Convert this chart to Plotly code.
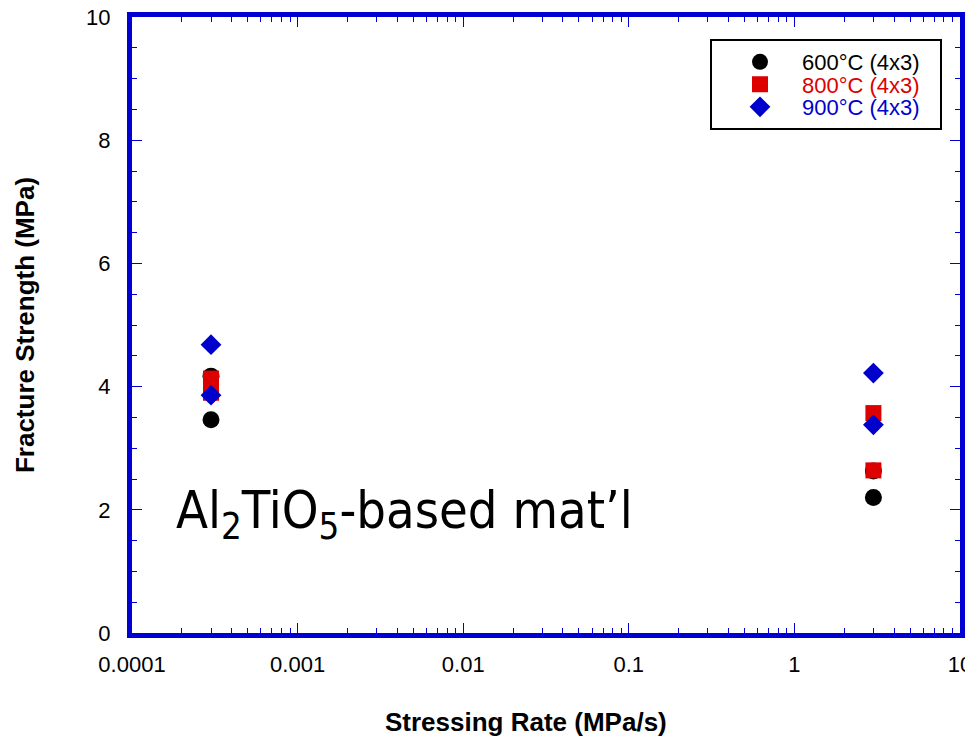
import plotly.graph_objects as go

# ---- data ----
rate = [3e-4, 3e-4, 3.0, 3.0]
s600 = [4.17, 3.46, 2.63, 2.20]
s800 = [4.13, 3.90, 3.57, 2.64]
s900 = [4.68, 3.86, 4.22, 3.38]
x_tickvals = [1e-4, 1e-3, 1e-2, 1e-1, 1, 10]
x_ticktext = ["0.0001", "0.001", "0.01", "0.1", "1", "10"]
y_tickvals = [0, 2, 4, 6, 8, 10]

BLUE = "#0000D2"
RED = "#DD0000"
FONT = "Liberation Sans, Arial, Helvetica, sans-serif"

# page has an 8px body margin, so the figure is drawn 8px in from the corner
OFF = 8
W, H = 973 - OFF, 740 - OFF
L, R, T, B = 132 - OFF, 13, 17 - OFF, 107
pw, ph = W - L - R, H - T - B

def px_x(px):  # screenshot pixel -> paper
    return (px - OFF - L) / pw

def px_y(py):
    return (H - B - (py - OFF)) / ph

fig = go.Figure()
series = [
    ("600°C (4x3)", s600, "black", "circle", 17, "legend"),
    ("800°C (4x3)", s800, RED, "square", 16, "legend2"),
    ("900°C (4x3)", s900, "#0000CC", "diamond", 16, "legend3"),
]
for name, ys, col, sym, sz, lg in series:
    fig.add_trace(go.Scatter(
        x=rate, y=ys, mode="markers",
        name=f'<span style="color:{col}">{name}</span>',
        marker=dict(color=col, symbol=sym, size=sz, line=dict(width=0)),
        legend=lg,
    ))

row_y = [62, 84.5, 107]
leg_common = dict(
    xanchor="left", yanchor="middle", x=px_x(718),
    bgcolor="rgba(0,0,0,0)", borderwidth=0, itemwidth=74,
    font=dict(family=FONT, size=22, color="black"),
)
fig.update_layout(
    legend=dict(y=px_y(row_y[0]), **leg_common),
    legend2=dict(y=px_y(row_y[1]), **leg_common),
    legend3=dict(y=px_y(row_y[2]), **leg_common),
)

# legend box
fig.add_shape(type="rect", xref="paper", yref="paper",
              x0=px_x(711), x1=px_x(941), y0=px_y(129), y1=px_y(40),
              line=dict(color="black", width=2), fillcolor="rgba(0,0,0,0)")

fig.add_annotation(
    xref="paper", yref="paper", x=px_x(174), y=px_y(514),
    xanchor="left", yanchor="middle", showarrow=False,
    text="Al<sub>2</sub>TiO<sub>5</sub>-based mat’l",
    font=dict(family="Liberation Sans Narrow, DejaVu Sans Condensed, sans-serif", size=52, color="black"),
)

# x-axis title (off-centre in the reference)
fig.add_annotation(
    xref="paper", yref="paper", x=px_x(526), y=px_y(722),
    xanchor="center", yanchor="middle", showarrow=False,
    text="<b>Stressing Rate (MPa/s)</b>",
    font=dict(family=FONT, size=26, color="black"),
)

fig.update_xaxes(
    type="log", range=[-4, 1],
    tickvals=x_tickvals, ticktext=x_ticktext,
    ticks="inside", ticklen=10, tickwidth=1, tickcolor=BLUE,
    minor=dict(tickvals=[m * 10 ** e for e in range(-4, 1) for m in range(2, 10)],
               ticks="inside", ticklen=5, tickwidth=1, tickcolor=BLUE, showgrid=False),
    showline=True, linewidth=5, linecolor=BLUE, mirror="ticks",
    showgrid=False, zeroline=False,
    tickfont=dict(family=FONT, size=22, color="black"),
    ticklabelstandoff=8, ticklabeloverflow="allow",
)
fig.update_yaxes(
    range=[0, 10], tickvals=y_tickvals,
    ticks="inside", ticklen=10, tickwidth=1, tickcolor=BLUE,
    minor=dict(dtick=0.5, ticks="inside", ticklen=5, tickwidth=1, tickcolor=BLUE, showgrid=False),
    showline=True, linewidth=5, linecolor=BLUE, mirror="ticks",
    showgrid=False, zeroline=False,
    tickfont=dict(family=FONT, size=22, color="black"),
    ticklabelstandoff=12, ticklabeloverflow="allow",
    title=dict(text="<b>Fracture Strength (MPa)</b>", standoff=46,
               font=dict(family=FONT, size=26, color="black")),
)

fig.update_layout(
    width=W, height=H,
    margin=dict(l=L, r=R, t=T, b=B, autoexpand=False),
    paper_bgcolor="white", plot_bgcolor="white",
    showlegend=True,
)

fig.write_html("out.html")
